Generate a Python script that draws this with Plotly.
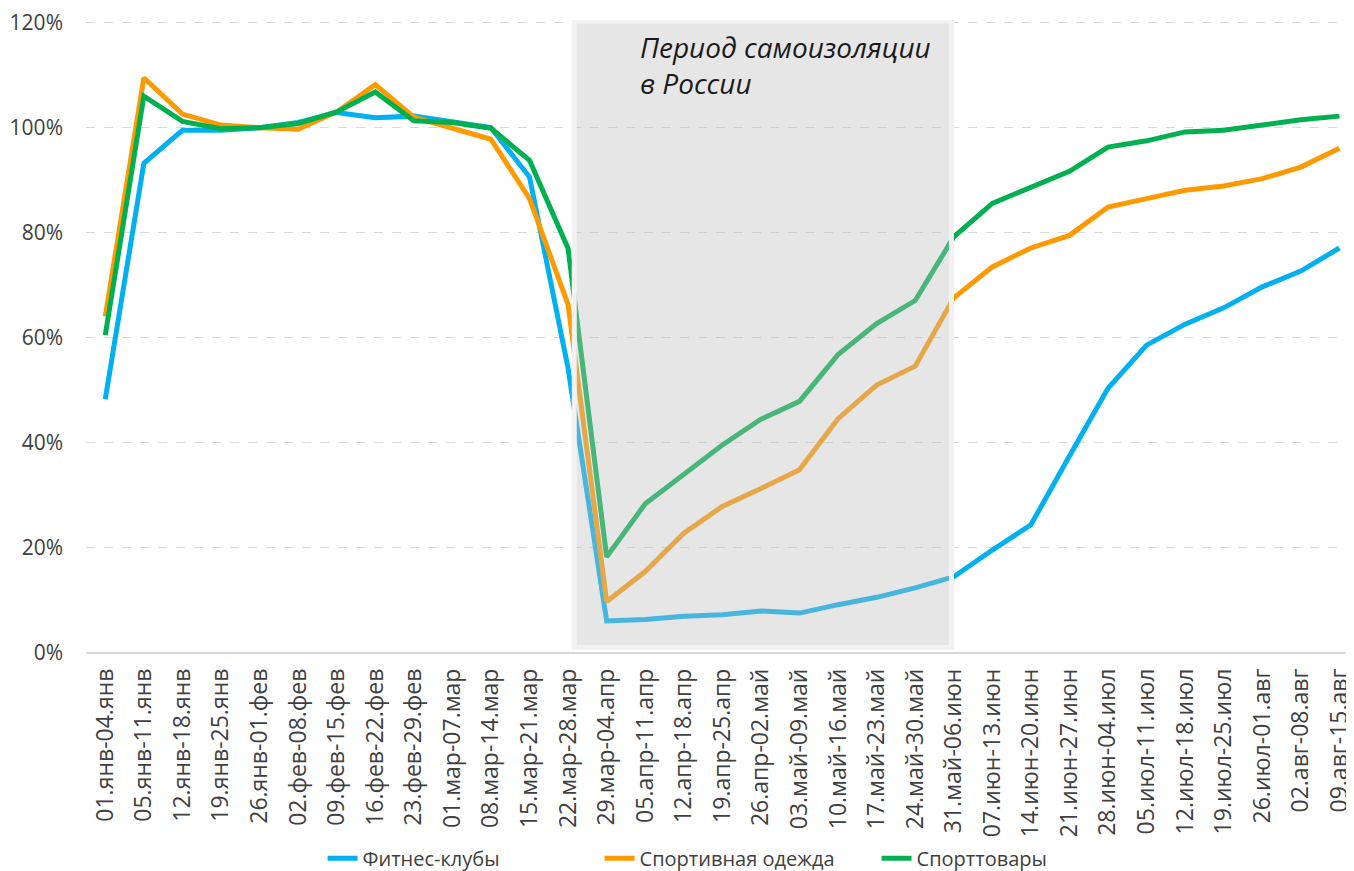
import plotly.graph_objects as go

weeks = ["01.янв-04.янв", "05.янв-11.янв", "12.янв-18.янв", "19.янв-25.янв", "26.янв-01.фев",
         "02.фев-08.фев", "09.фев-15.фев", "16.фев-22.фев", "23.фев-29.фев", "01.мар-07.мар",
         "08.мар-14.мар", "15.мар-21.мар", "22.мар-28.мар", "29.мар-04.апр", "05.апр-11.апр",
         "12.апр-18.апр", "19.апр-25.апр", "26.апр-02.май", "03.май-09.май", "10.май-16.май",
         "17.май-23.май", "24.май-30.май", "31.май-06.июн", "07.июн-13.июн", "14.июн-20.июн",
         "21.июн-27.июн", "28.июн-04.июл", "05.июл-11.июл", "12.июл-18.июл", "19.июл-25.июл",
         "26.июл-01.авг", "02.авг-08.авг", "09.авг-15.авг"]

fitness = [48.3, 93.2, 99.5, 99.5, 100.0, 101.0, 102.9, 101.9, 102.2, 101.0,
           100.0, 90.6, 54.2, 6.1, 6.4, 7.0, 7.3, 8.0, 7.6, 9.2,
           10.6, 12.4, 14.5, 19.6, 24.4, 37.5, 50.4, 58.6, 62.6, 65.7,
           69.7, 72.7, 77.1]
clothes = [64.1, 109.5, 102.6, 100.5, 100.0, 99.7, 103.0, 108.2, 102.0, 100.0,
           97.8, 86.5, 66.3, 9.8, 15.5, 22.8, 27.9, 31.3, 34.9, 44.6,
           51.0, 54.6, 67.6, 73.5, 77.1, 79.5, 84.9, 86.5, 88.1, 88.9,
           90.3, 92.5, 96.1]
goods = [60.5, 106.0, 101.2, 99.8, 100.0, 100.8, 103.0, 106.8, 101.3, 101.0,
         99.9, 93.8, 77.0, 18.3, 28.4, 34.0, 39.6, 44.5, 47.9, 56.8,
         62.7, 67.1, 79.2, 85.6, 88.7, 91.7, 96.3, 97.5, 99.2, 99.5,
         100.5, 101.5, 102.2]

y_ticks = [0, 20, 40, 60, 80, 100, 120]
y_labels = ["0%", "20%", "40%", "60%", "80%", "100%", "120%"]

series = [("Фитнес-клубы", fitness, "#00b0f0"),
          ("Спортивная одежда", clothes, "#ff9900"),
          ("Спорттовары", goods, "#00b050")]

font = "Open Sans"

fig = go.Figure()
for name, vals, col in series:
    fig.add_trace(go.Scatter(x=weeks, y=vals, name=name, mode="lines",
                             line=dict(color=col, width=5)))

# shaded period, drawn over the lines
fig.add_shape(type="rect", xref="x", yref="y", x0=12.16, x1=21.94, y0=1.05, y1=120.3,
              fillcolor="rgba(190,190,190,0.38)", line=dict(color="#f2f2f2", width=5),
              layer="above")

fig.add_annotation(x=13.8, y=119.4, xref="x", yref="y", xanchor="left", yanchor="top",
                   text="<i>Период самоизоляции<br>в России</i>", showarrow=False, align="left",
                   font=dict(family=font, size=28, color="#1a1a1a"))

# page body adds 8px margin, so the figure is shifted by 8px
fig.update_layout(
    width=1346, height=871,
    margin=dict(l=78, r=0, t=11, b=226),
    plot_bgcolor="white", paper_bgcolor="white",
    font=dict(family=font, size=20, color="#404040"),
    showlegend=True,
    legend=dict(orientation="h", x=0.187, xanchor="left", y=-0.355, yanchor="bottom",
                entrywidth=232, entrywidthmode="pixels",
                font=dict(size=20, color="#404040")),
    xaxis=dict(type="category", range=[-0.5, 32.3], tickangle=-90, showgrid=False,
               ticks="", tickfont=dict(size=23), ticklabelstandoff=10),
    yaxis=dict(range=[0, 120.5], tickmode="array", tickvals=y_ticks, ticktext=y_labels,
               ticklabeloverflow="allow",
               showgrid=True, gridcolor="#d9d9d9", griddash="dash", gridwidth=1.3,
               zeroline=True, zerolinecolor="#d9d9d9", zerolinewidth=2,
               ticks="", tickfont=dict(size=21), ticklabelstandoff=22),
)

fig.write_html("out.html")
